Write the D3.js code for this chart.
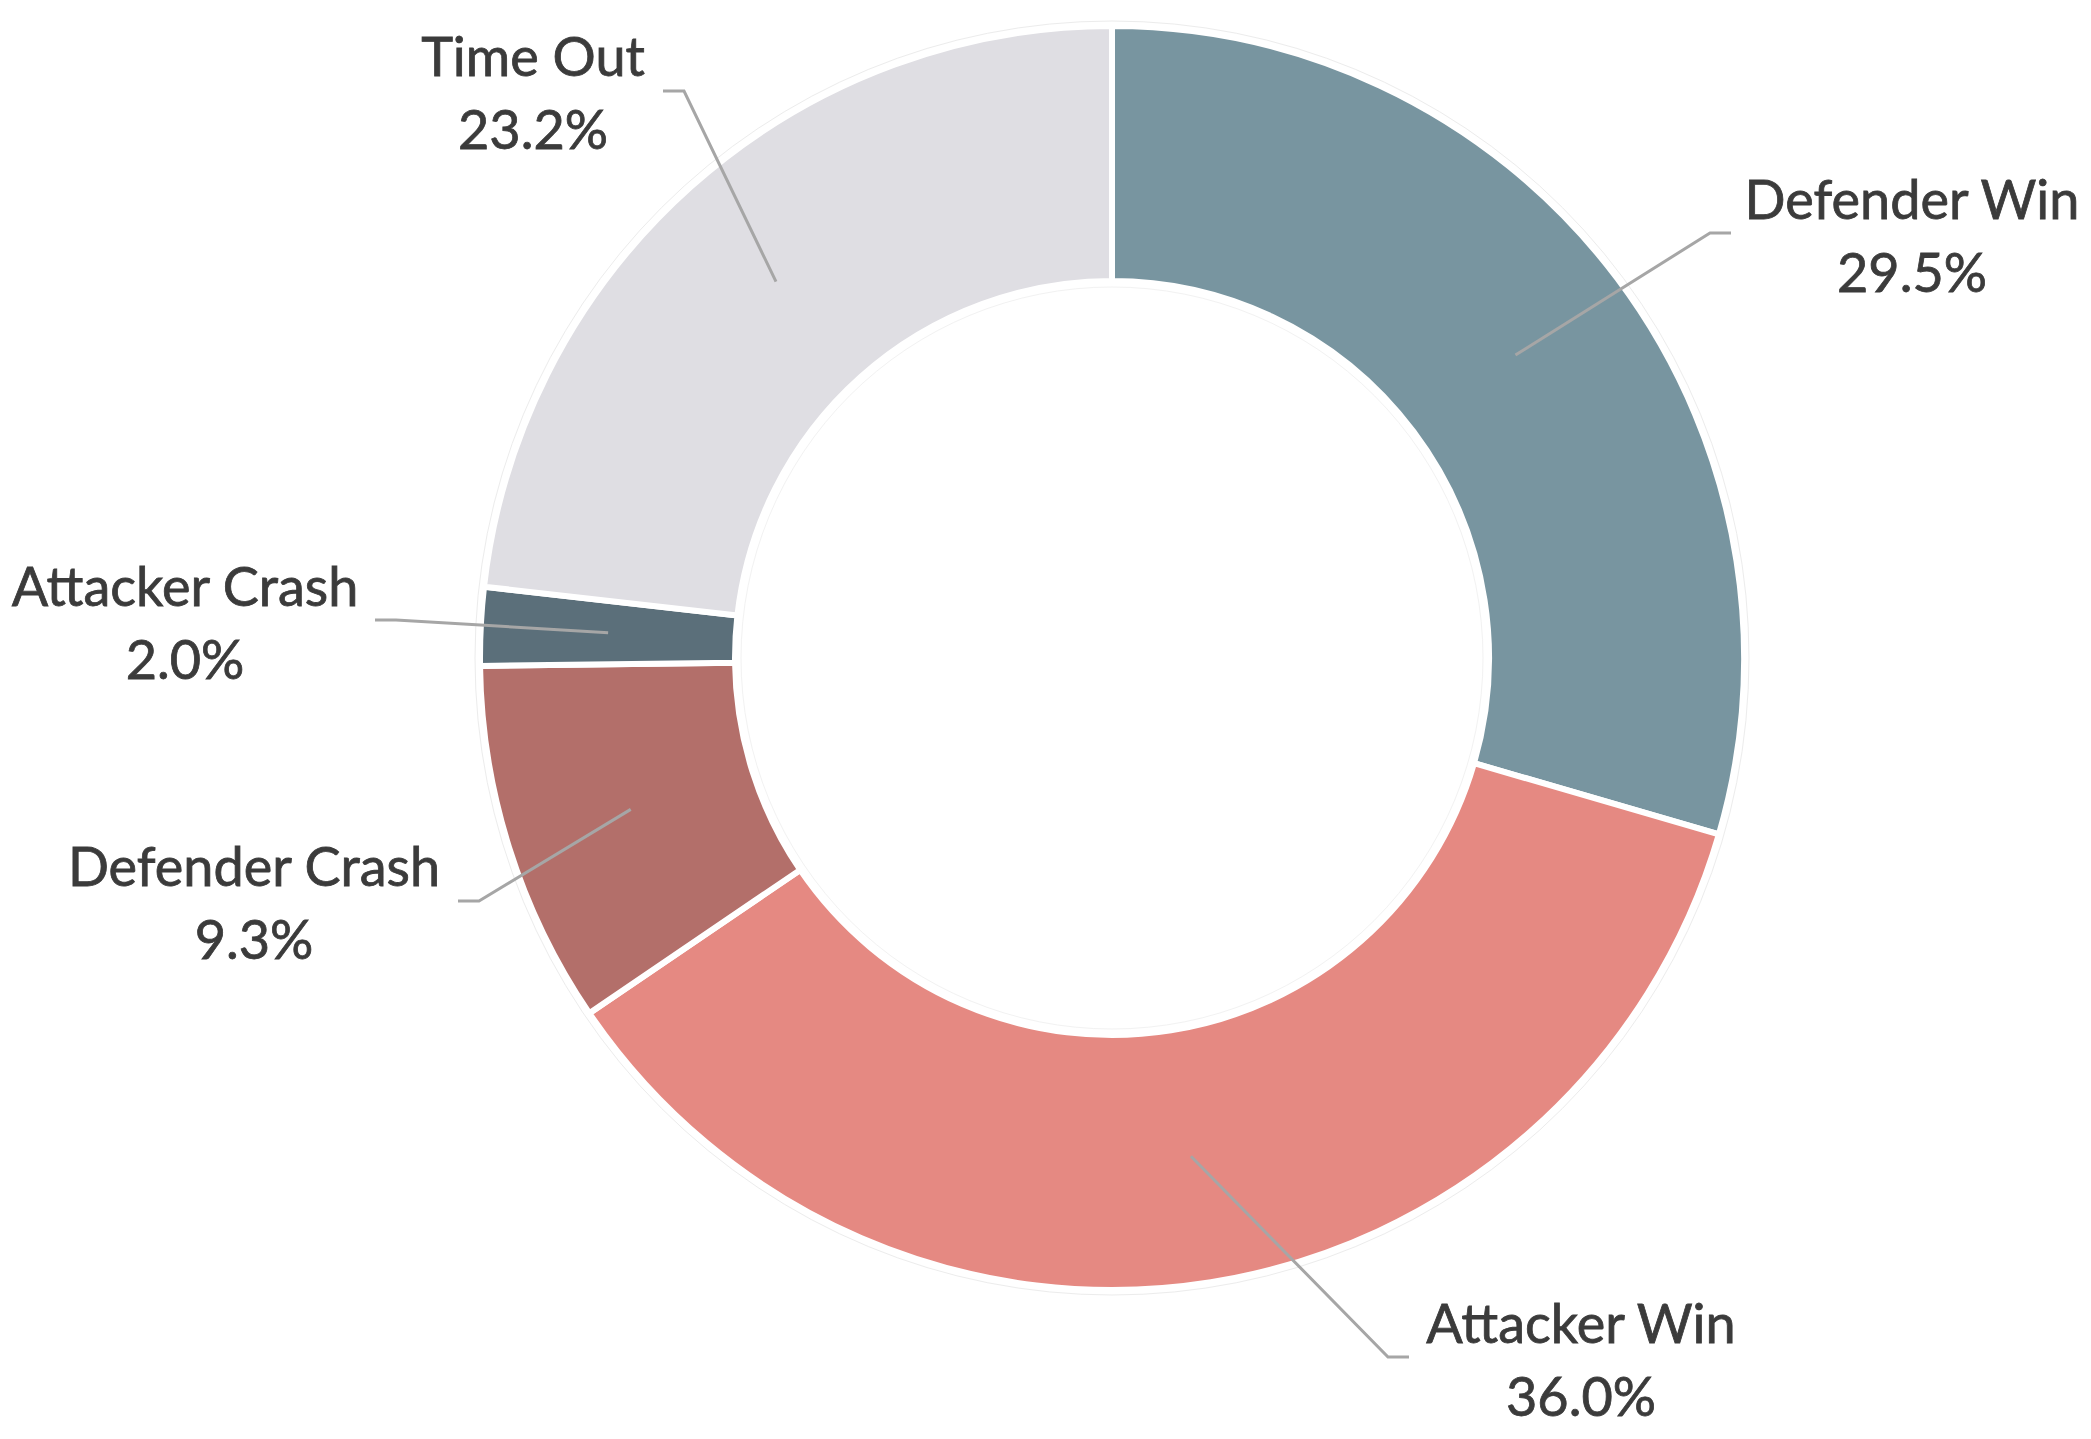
<!DOCTYPE html>
<html>
<head>
<meta charset="utf-8">
<script src="https://cdn.jsdelivr.net/npm/d3@7"></script>
<style>
  html, body { margin: 0; padding: 0; background: #ffffff; }
  svg { display: block; }
</style>
</head>
<body>
<svg id="chart" width="2091" height="1439"></svg>
<script>
// ---- data ----
const categories = ["Defender Win", "Attacker Win", "Defender Crash", "Attacker Crash", "Time Out"];
const values = [29.5, 36.0, 9.3, 2.0, 23.2];
const colors = ["#7895A0", "#E58982", "#B36F6A", "#5B6F7A", "#DFDEE3"];
// label anchor (elbow) positions relative to centre, layout only
const labelElbows = [[598, -425], [276, 699], [-633, 243], [-716, -38], [-428, -567]];
const labelSide = [1, 1, -1, -1, -1];

const W = 2091, H = 1439;
const cx = 1112, cy = 658;
const R = 632, r = 377;

const svg = d3.select("#chart");
const g = svg.append("g").attr("transform", `translate(${cx},${cy})`);

const data = categories.map((c, i) => ({ name: c, value: values[i], color: colors[i] }));

const pie = d3.pie().value(d => d.value).sort(null);
const arc = d3.arc().innerRadius(r).outerRadius(R);
const arcs = pie(data);

// faint outer/inner halo
g.append("circle").attr("r", R + 5).attr("fill", "none").attr("stroke", "#ececec").attr("stroke-width", 1);
g.append("circle").attr("r", r - 6).attr("fill", "none").attr("stroke", "#f2f2f2").attr("stroke-width", 1);

g.selectAll("path.slice")
  .data(arcs)
  .join("path")
  .attr("class", "slice")
  .attr("d", arc)
  .attr("fill", d => d.data.color)
  .attr("stroke", "#ffffff")
  .attr("stroke-width", 6)
  .attr("stroke-linejoin", "miter");

const centroidArc = d3.arc().innerRadius((R + r) / 2).outerRadius((R + r) / 2);

// leader lines
arcs.forEach((a, i) => {
  const c = centroidArc.centroid(a);
  const e = labelElbows[i];
  const s = labelSide[i];
  const pts = [c, e, [e[0] + s * 21, e[1]]];
  g.append("path")
    .attr("d", d3.line()(pts))
    .attr("fill", "none")
    .attr("stroke", "#A6A6A6")
    .attr("stroke-width", 3);
});

// labels
const fmt = d3.format(".1f");
const labelCenters = [[1912, 200], [1581, 1324], [254, 867], [185, 587], [533, 57]];
arcs.forEach((a, i) => {
  const [x, y] = labelCenters[i];
  const t = svg.append("text")
    .attr("x", x)
    .attr("text-anchor", "middle")
    .attr("font-family", "Lato, 'Open Sans', sans-serif")
    .attr("font-size", 54)
    .attr("fill", "#3b3b3b")
    .attr("stroke", "#3b3b3b")
    .attr("stroke-width", 0.8);
  t.append("tspan").attr("x", x).attr("y", y).attr("dy", "0.35em").text(a.data.name);
  t.append("tspan").attr("x", x).attr("y", y + 73).attr("dy", "0.35em").text(fmt(a.data.value) + "%");
});
</script>
</body>
</html>
